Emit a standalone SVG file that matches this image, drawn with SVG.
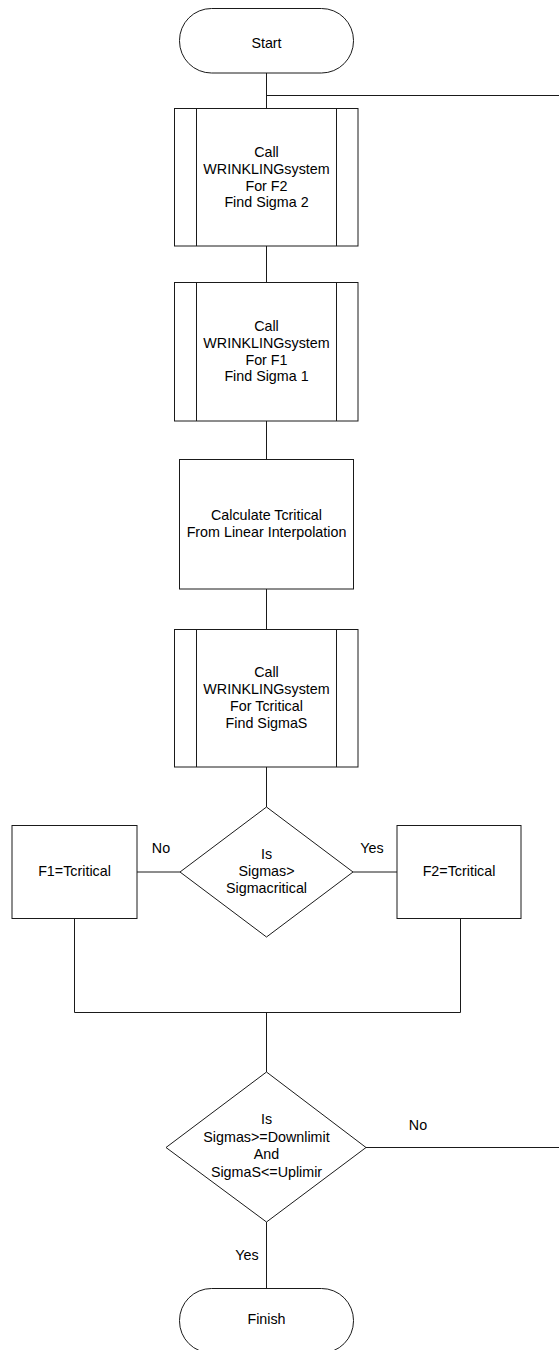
<svg xmlns="http://www.w3.org/2000/svg" width="559" height="1350" viewBox="0 0 559 1350">
<style>
.s{fill:#fff;stroke:#1a1a1a;stroke-width:1}
.c{fill:none;stroke:#1a1a1a;stroke-width:1}
text{font-family:"Liberation Sans",Arial,sans-serif;font-size:14.3px;fill:#000;text-anchor:middle}
</style>
<rect width="559" height="1350" fill="#fff"/>
<g id="connectors">
<path class="c" d="M266.5 73V108M266.5 95.5H559M266.5 246V282M266.5 421V459M266.5 589V629M266.5 767V807"/>
<path class="c" d="M137 872H180M353 872H397"/>
<path class="c" d="M74.5 918V1012.5H460.5V918M266.5 1012.5V1072"/>
<path class="c" d="M366 1147.5H559M266.5 1222V1288"/>
</g>
<g id="start">
<rect class="s" x="179.5" y="8.5" width="174" height="64.5" rx="32" ry="32"/>
<text x="266.5" y="48">Start</text>
</g>
<g id="call1">
<rect class="s" x="174.5" y="108.5" width="183.5" height="137.5"/>
<path class="c" d="M196.5 108.5V246M336.5 108.5V246"/>
<text x="266.5" y="157">Call</text>
<text x="266.5" y="174">WRINKLINGsystem</text>
<text x="266.5" y="191">For F2</text>
<text x="266.5" y="207">Find Sigma 2</text>
</g>
<g id="call2">
<rect class="s" x="174.5" y="282.5" width="183.5" height="138.5"/>
<path class="c" d="M196.5 282.5V421M336.5 282.5V421"/>
<text x="266.5" y="331">Call</text>
<text x="266.5" y="348">WRINKLINGsystem</text>
<text x="266.5" y="365">For F1</text>
<text x="266.5" y="381">Find Sigma 1</text>
</g>
<g id="calc">
<rect class="s" x="179.5" y="459.5" width="174" height="129.5"/>
<text x="266.5" y="520">Calculate Tcritical</text>
<text x="266.5" y="537">From Linear Interpolation</text>
</g>
<g id="call3">
<rect class="s" x="174.5" y="629.5" width="183.5" height="137.5"/>
<path class="c" d="M196.5 629.5V767M336.5 629.5V767"/>
<text x="266.5" y="677">Call</text>
<text x="266.5" y="694">WRINKLINGsystem</text>
<text x="266.5" y="711">For Tcritical</text>
<text x="266.5" y="728">Find SigmaS</text>
</g>
<g id="decision1">
<polygon class="s" points="266.5,807 353,872 266.5,937 180,872"/>
<text x="266.5" y="859">Is</text>
<text x="266.5" y="876">Sigmas&gt;</text>
<text x="266.5" y="893">Sigmacritical</text>
</g>
<g id="f1">
<rect class="s" x="12" y="825.5" width="125" height="93"/>
<text x="74.5" y="876">F1=Tcritical</text>
</g>
<g id="f2">
<rect class="s" x="397" y="825.5" width="124" height="93"/>
<text x="459" y="876">F2=Tcritical</text>
</g>
<g id="labels1">
<text x="161" y="853">No</text>
<text x="372" y="853">Yes</text>
</g>
<g id="decision2">
<polygon class="s" points="266.5,1072 366,1147.5 266.5,1222 166,1147.5"/>
<text x="266.5" y="1124">Is</text>
<text x="266.5" y="1142">Sigmas&gt;=Downlimit</text>
<text x="266.5" y="1159">And</text>
<text x="266.5" y="1177">SigmaS&lt;=Uplimir</text>
</g>
<g id="labels2">
<text x="418" y="1130">No</text>
<text x="247" y="1260">Yes</text>
</g>
<g id="finish">
<rect class="s" x="179.5" y="1288.5" width="174" height="64.5" rx="32" ry="32"/>
<text x="266.5" y="1324">Finish</text>
</g>
</svg>
